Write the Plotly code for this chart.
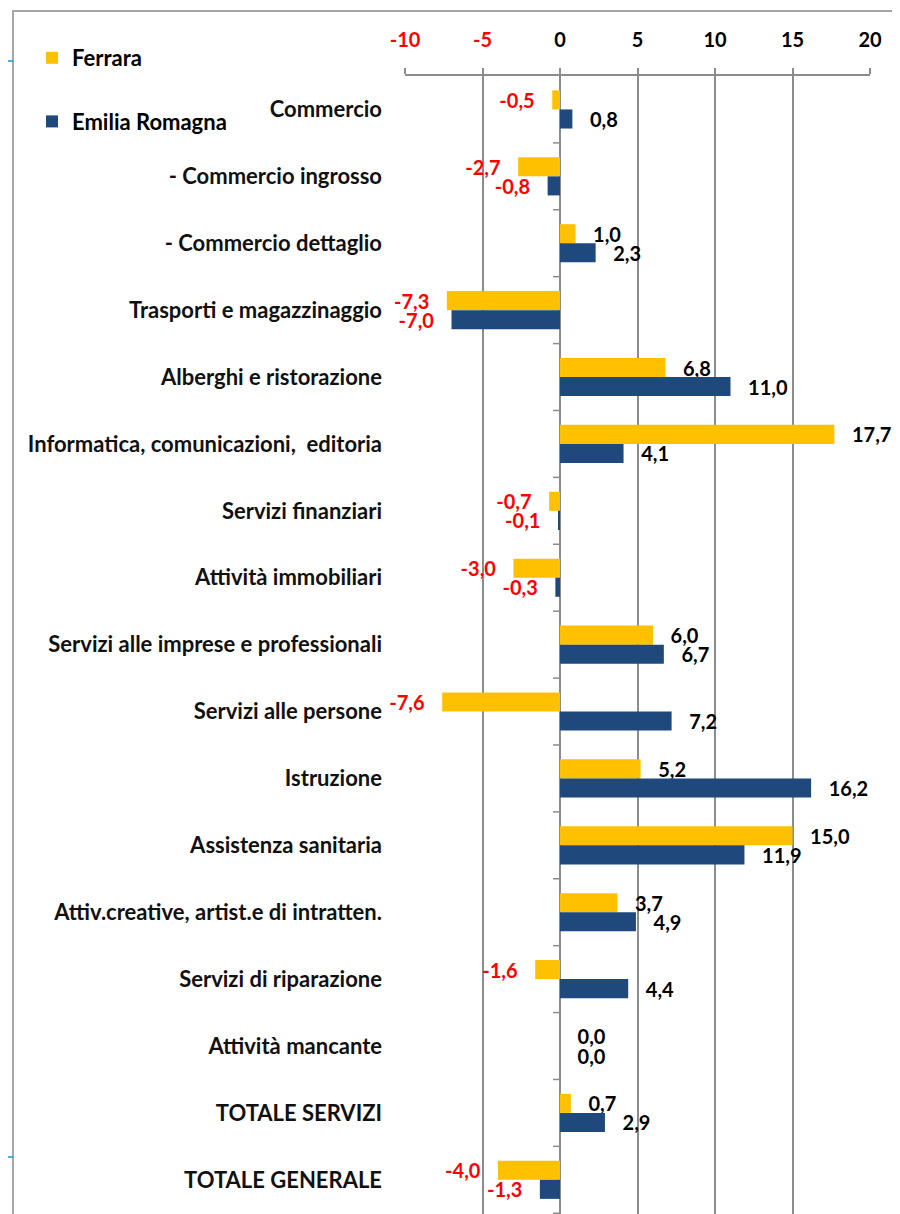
import plotly.graph_objects as go

categories = [
    "Commercio",
    "- Commercio ingrosso",
    "- Commercio dettaglio",
    "Trasporti e magazzinaggio",
    "Alberghi e ristorazione",
    "Informatica, comunicazioni,  editoria",
    "Servizi finanziari",
    "Attività immobiliari",
    "Servizi alle imprese e professionali",
    "Servizi alle persone",
    "Istruzione",
    "Assistenza sanitaria",
    "Attiv.creative, artist.e di intratten.",
    "Servizi di riparazione",
    "Attività mancante",
    "TOTALE SERVIZI",
    "TOTALE GENERALE",
]
ferrara = [-0.5, -2.7, 1.0, -7.3, 6.8, 17.7, -0.7, -3.0, 6.0, -7.6, 5.2, 15.0, 3.7, -1.6, 0.0, 0.7, -4.0]
emilia = [0.8, -0.8, 2.3, -7.0, 11.0, 4.1, -0.1, -0.3, 6.7, 7.2, 16.2, 11.9, 4.9, 4.4, 0.0, 2.9, -1.3]
x_ticks = [-10, -5, 0, 5, 10, 15, 20]

FONT = "Lato"
NB = "\u00a0"
GRID = "#8c8c8c"

# page pixel -> paper coordinates (page has an 8px body margin)
PL, PW, PB, PH = 405, 465, 1214, 1138


def px(xp):
    return (xp - PL) / PW


def py(yp):
    return (PB - yp) / PH


def labels(vals):
    out = []
    for v in vals:
        s = f"{v:.1f}".replace(".", ",")
        out.append(NB * 3 + s if v >= 0 else s + NB * 3)
    return out


def colors(vals):
    return ["#ff0000" if v < 0 else "#000000" for v in vals]


fig = go.Figure()
for name, vals, col, grp in [("Ferrara", ferrara, "#ffc000", "a"),
                             ("Emilia Romagna", emilia, "#1f497d", "b")]:
    fig.add_trace(go.Bar(
        name=name, y=categories, x=vals, orientation="h",
        marker=dict(color=col, line=dict(width=0)),
        text=labels(vals), textposition="outside",
        textfont=dict(family=FONT, size=20, weight="bold", color=colors(vals)),
        cliponaxis=False, constraintext="none",
        legendgroup=grp,
    ))

ticktext = [f'<span style="color:#ff0000">{t}</span>' if t < 0 else str(t) for t in x_ticks]

shapes = [
    dict(type="rect", xref="paper", yref="paper",
         x0=px(13), x1=px(930), y0=py(1230), y1=py(11),
         line=dict(color="#a6a6a6", width=2), fillcolor="rgba(0,0,0,0)", layer="below"),
]
for yy in (61, 1157):
    shapes.append(dict(type="line", xref="paper", yref="paper",
                       x0=px(8), x1=px(13), y0=py(yy), y1=py(yy),
                       line=dict(color="#00a0e0", width=1.5, dash="dash")))
for i in range(len(categories)):
    shapes.append(dict(type="line", xref="x", yref="y",
                       x0=-0.45, x1=0, y0=i + 0.5, y1=i + 0.5,
                       line=dict(color=GRID, width=1.5)))

fig.update_layout(
    width=892, height=1206,
    margin=dict(l=397, r=30, t=68, b=0),
    paper_bgcolor="white", plot_bgcolor="white",
    barmode="group", bargap=0.43, bargroupgap=0,
    font=dict(family=FONT, size=20, color="#000000"),
    showlegend=True,
    legend=dict(x=px(32), y=py(37), xanchor="left", yanchor="top",
                traceorder="grouped", tracegroupgap=32,
                font=dict(family=FONT, size=22, weight="bold", color="#000000"),
                bgcolor="rgba(0,0,0,0)"),
    xaxis=dict(side="top", range=[-10, 20], tickvals=x_ticks, ticktext=ticktext,
               showgrid=True, gridcolor=GRID, gridwidth=1.5,
               zeroline=True, zerolinecolor=GRID, zerolinewidth=1.5,
               showline=True, linecolor=GRID, linewidth=1.5,
               ticks="outside", ticklen=6, tickcolor=GRID, tickwidth=1.5,
               ticklabelstandoff=13,
               tickfont=dict(family=FONT, size=20, weight="bold", color="#000000")),
    yaxis=dict(type="category", autorange="reversed", showgrid=False, zeroline=False,
               showline=False, ticks="", ticklabelstandoff=22,
               tickfont=dict(family=FONT, size=22, weight="bold", color="#111111")),
    shapes=shapes,
)

fig.write_html("out.html")
